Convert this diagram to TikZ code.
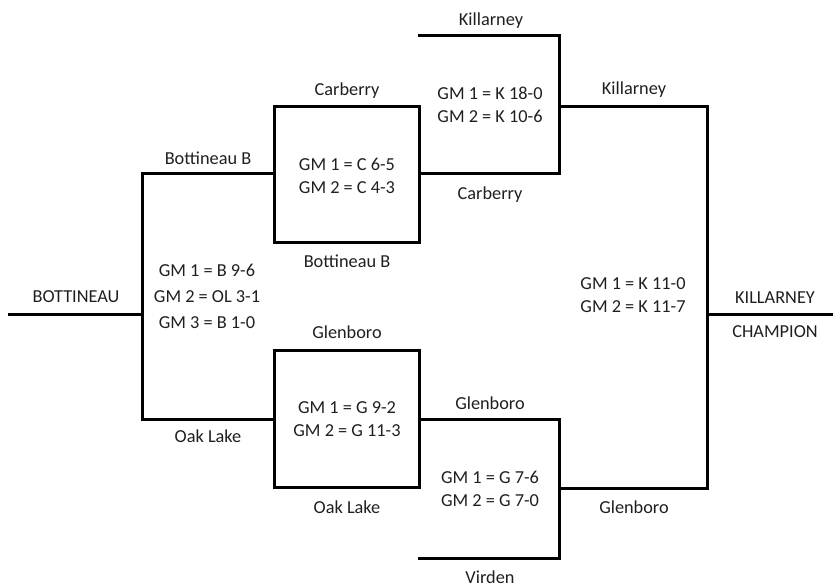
\documentclass[tikz,border=0pt]{standalone}
\usepackage{fontspec}
\setmainfont{Carlito}
\begin{document}
\begin{tikzpicture}[x=1pt,y=-1pt,
  wire/.style={line width=3pt, line join=miter, line cap=rect},
  lbl/.style={font=\fontsize{18.3}{22}\selectfont, text=black!88, inner sep=0pt, text height=11.8pt, text depth=0pt}]
\useasboundingbox (0,0) rectangle (833,587);
% coordinates
\coordinate (L0) at (9,314);
\coordinate (L1) at (142,314);
\coordinate (Ltop) at (142,173.5);
\coordinate (Lbot) at (142,419);
\coordinate (CBtl) at (274,106);
\coordinate (CBbr) at (419,242);
\coordinate (GBtl) at (274,350);
\coordinate (GBbr) at (419,487);
\coordinate (CBl) at (274,173.5);
\coordinate (GBl) at (274,419);
\coordinate (KTa) at (419,35);
\coordinate (KTb) at (559,35);
\coordinate (KTc) at (559,173.5);
\coordinate (KTd) at (419,173.5);
\coordinate (KTo) at (559,106);
\coordinate (VBa) at (419,419);
\coordinate (VBb) at (559,419);
\coordinate (VBc) at (559,558);
\coordinate (VBd) at (419,558);
\coordinate (VBo) at (559,488);
\coordinate (Fa) at (707,106);
\coordinate (Fb) at (707,488);
\coordinate (Fm) at (707,314);
\coordinate (Fe) at (833,314);
% lines
\draw[wire] (L0) -- (L1);
\draw[wire] (CBl) -- (Ltop) -- (Lbot) -- (GBl);
\draw[wire] (CBtl) rectangle (CBbr);
\draw[wire] (GBtl) rectangle (GBbr);
\draw[wire] (KTa) -- (KTb) -- (KTc) -- (KTd);
\draw[wire] (KTo) -- (Fa);
\draw[wire] (VBa) -- (VBb) -- (VBc) -- (VBd);
\draw[wire] (VBo) -- (Fb);
\draw[wire] (Fa) -- (Fb);
\draw[wire] (Fm) -- (Fe);
% labels
\node[lbl] (t1) at (76,297) {BOTTINEAU};
\node[lbl] (t2) at (208,159) {Bottineau B};
\node[lbl] (t3) at (207,271) {GM 1 = B 9-6};
\node[lbl] (t4) at (207,297) {GM 2 = OL 3-1};
\node[lbl] (t5) at (207,322.5) {GM 3 = B 1-0};
\node[lbl] (t6) at (208,437) {Oak Lake};
\node[lbl] (t7) at (491,20) {Killarney};
\node[lbl] (t8) at (347,90) {Carberry};
\node[lbl] (t9) at (490,93.5) {GM 1 = K 18-0};
\node[lbl] (t10) at (490,117) {GM 2 = K 10-6};
\node[lbl] (t11) at (347,164.5) {GM 1 = C 6-5};
\node[lbl] (t12) at (347,188) {GM 2 = C 4-3};
\node[lbl] (t13) at (490,194) {Carberry};
\node[lbl] (t14) at (347,262) {Bottineau B};
\node[lbl] (t15) at (347,333) {Glenboro};
\node[lbl] (t16) at (347,408) {GM 1 = G 9-2};
\node[lbl] (t17) at (347,431) {GM 2 = G 11-3};
\node[lbl] (t18) at (490,404) {Glenboro};
\node[lbl] (t19) at (347,508) {Oak Lake};
\node[lbl] (t20) at (490,478) {GM 1 = G 7-6};
\node[lbl] (t21) at (490,501) {GM 2 = G 7-0};
\node[lbl] (t22) at (490,577.5) {Virden};
\node[lbl] (t23) at (634,89) {Killarney};
\node[lbl] (t24) at (633,284) {GM 1 = K 11-0};
\node[lbl] (t25) at (633,307) {GM 2 = K 11-7};
\node[lbl] (t26) at (775,298) {KILLARNEY};
\node[lbl] (t27) at (775,332) {CHAMPION};
\node[lbl] (t28) at (634,507.5) {Glenboro};
\end{tikzpicture}
\end{document}
